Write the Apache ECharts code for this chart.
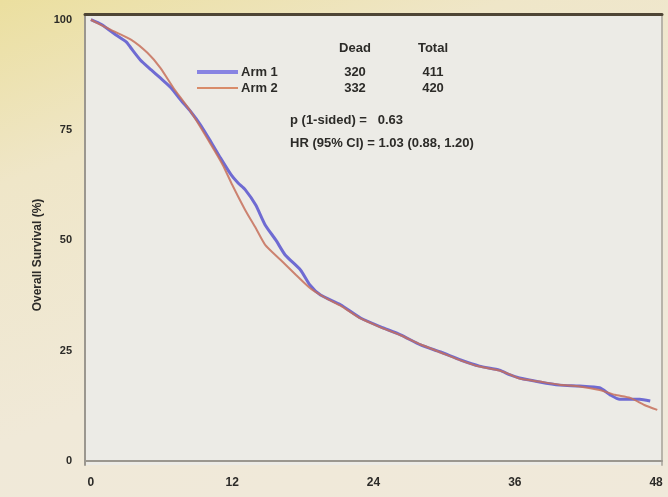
<!DOCTYPE html>
<html>
<head>
<meta charset="utf-8">
<script src="https://cdn.jsdelivr.net/npm/echarts@6/dist/echarts.min.js"></script>
<style>
  html, body { margin: 0; padding: 0; }
  body { background: linear-gradient(160deg, #ebdf9f 0%, #efe6c8 25%, #f0e9d8 60%, #f0e9da 100%); }
  #chart { width: 668px; height: 497px; }
</style>
</head>
<body>
<div id="chart"></div>
<script>
// tick labels
const xTicks = [0, 12, 24, 36, 48];
const yTicks = [0, 25, 50, 75, 100];

// Arm 1 (blue) - months / overall survival %
const arm1Months = [0, 0.9, 2.1, 3.0, 3.4, 4.2, 5.1, 5.9, 6.8, 7.6, 8.5, 9.3, 10.2, 11.0, 11.9, 12.5, 13.1, 14.0, 14.8, 15.7, 16.5, 17.8, 18.6, 19.5, 21.2, 22.9, 24.6, 26.3, 28.0, 29.7, 31.4, 33.0, 34.7, 35.6, 36.4, 38.1, 39.8, 41.5, 43.2, 44.1, 44.9, 46.6, 47.5];
const arm1Surv   = [100, 98.9, 96.6, 95.0, 93.6, 90.9, 88.7, 86.8, 84.6, 81.9, 79.1, 76.2, 72.3, 68.7, 64.9, 63.0, 61.5, 58.0, 53.5, 50.1, 46.7, 43.3, 39.9, 37.6, 35.4, 32.4, 30.4, 28.6, 26.3, 24.7, 22.9, 21.5, 20.6, 19.5, 18.8, 17.9, 17.2, 17.0, 16.6, 15.0, 14.0, 14.0, 13.6];

// Arm 2 (orange)
const arm2Months = [0, 1.7, 3.4, 4.8, 5.9, 7.0, 8.5, 10.2, 11.2, 12.0, 13.1, 14.0, 14.8, 16.1, 17.4, 18.6, 19.9, 21.2, 22.9, 24.6, 26.3, 28.0, 29.7, 31.4, 33.0, 34.7, 35.6, 36.4, 38.1, 39.8, 41.5, 43.2, 44.5, 45.8, 47.0, 48.1];
const arm2Surv   = [100, 97.7, 95.5, 92.5, 89.1, 84.6, 79.1, 71.7, 67.1, 62.6, 56.9, 52.8, 49.0, 45.6, 42.2, 39.2, 37.0, 35.2, 32.3, 30.3, 28.5, 26.4, 24.6, 22.8, 21.4, 20.5, 19.6, 18.7, 18.0, 17.3, 16.9, 16.1, 15.0, 14.3, 12.7, 11.6];

// legend table text
const armNames = ['Arm 1', 'Arm 2'];
const dead = ['320', '332'];
const total = ['411', '420'];
const pText = 'p (1-sided) =   0.63';
const hrText = 'HR (95% CI) = 1.03 (0.88, 1.20)';

const zip = (xs, ys) => xs.map((x, i) => [x, ys[i]]);

const textStyle = { fontFamily: 'Liberation Sans, Arial, sans-serif', fontWeight: 'bold', fontSize: 13, fill: '#2c2b28' };

const chart = echarts.init(document.getElementById('chart'));

const option = {
  backgroundColor: 'transparent',
  animation: false,
  grid: { left: 85, right: 6, top: 14, bottom: 32, show: true, backgroundColor: '#ecebe6', borderWidth: 0 },
  xAxis: [
    {
      type: 'value', min: -0.5, max: 48.5,
      axisLine: { show: true, lineStyle: { color: '#9b978f', width: 2 } },
      axisTick: { show: false },
      splitLine: { show: false },
      axisLabel: { customValues: xTicks, margin: 12, color: '#2c2b28', fontWeight: 'bold', fontSize: 12, fontFamily: 'Liberation Sans, Arial, sans-serif' }
    },
    {
      type: 'value', position: 'top', min: -0.5, max: 48.5,
      axisLine: { show: true, onZero: false, lineStyle: { color: '#4e4535', width: 3 } },
      axisTick: { show: false }, axisLabel: { show: false }, splitLine: { show: false }
    }
  ],
  yAxis: [
    {
      type: 'value', min: -0.9, max: 101.3,
      axisLine: { show: true, onZero: false, lineStyle: { color: '#9b978f', width: 2 } },
      axisTick: { show: false },
      splitLine: { show: false },
      axisLabel: { customValues: yTicks, margin: 13, color: '#2c2b28', fontWeight: 'bold', fontSize: 11, fontFamily: 'Liberation Sans, Arial, sans-serif' }
    },
    {
      type: 'value', position: 'right', min: -0.9, max: 101.3,
      axisLine: { show: true, onZero: false, lineStyle: { color: '#b8b4aa', width: 2 } },
      axisTick: { show: false }, axisLabel: { show: false }, splitLine: { show: false }
    }
  ],
  series: [
    {
      name: armNames[0], type: 'line', showSymbol: false, smooth: 0.2,
      lineStyle: { color: '#6f6bd2', width: 3 },
      data: zip(arm1Months, arm1Surv), z: 2
    },
    {
      name: armNames[1], type: 'line', showSymbol: false, smooth: 0.2,
      lineStyle: { color: '#c7705a', width: 2, opacity: 0.85 },
      data: zip(arm2Months, arm2Surv), z: 3
    }
  ],
  graphic: [
    { type: 'text', x: 38, y: 255, rotation: Math.PI / 2, style: Object.assign({}, textStyle, { text: 'Overall Survival (%)', fontSize: 12, align: 'center', verticalAlign: 'middle' }) },
    { type: 'line', shape: { x1: 197, y1: 72, x2: 238, y2: 72 }, style: { stroke: '#8884e2', lineWidth: 4 } },
    { type: 'line', shape: { x1: 197, y1: 88, x2: 238, y2: 88 }, style: { stroke: '#d98c6a', lineWidth: 2 } },
    { type: 'text', x: 355, y: 48, style: Object.assign({}, textStyle, { text: 'Dead', align: 'center', verticalAlign: 'middle' }) },
    { type: 'text', x: 433, y: 48, style: Object.assign({}, textStyle, { text: 'Total', align: 'center', verticalAlign: 'middle' }) },
    { type: 'text', x: 241, y: 72, style: Object.assign({}, textStyle, { text: armNames[0], verticalAlign: 'middle' }) },
    { type: 'text', x: 241, y: 88, style: Object.assign({}, textStyle, { text: armNames[1], verticalAlign: 'middle' }) },
    { type: 'text', x: 355, y: 72, style: Object.assign({}, textStyle, { text: dead[0], align: 'center', verticalAlign: 'middle' }) },
    { type: 'text', x: 355, y: 88, style: Object.assign({}, textStyle, { text: dead[1], align: 'center', verticalAlign: 'middle' }) },
    { type: 'text', x: 433, y: 72, style: Object.assign({}, textStyle, { text: total[0], align: 'center', verticalAlign: 'middle' }) },
    { type: 'text', x: 433, y: 88, style: Object.assign({}, textStyle, { text: total[1], align: 'center', verticalAlign: 'middle' }) },
    { type: 'text', x: 290, y: 120, style: Object.assign({}, textStyle, { text: pText, verticalAlign: 'middle' }) },
    { type: 'text', x: 290, y: 143, style: Object.assign({}, textStyle, { text: hrText, verticalAlign: 'middle' }) }
  ]
};

chart.setOption(option);
</script>
</body>
</html>
